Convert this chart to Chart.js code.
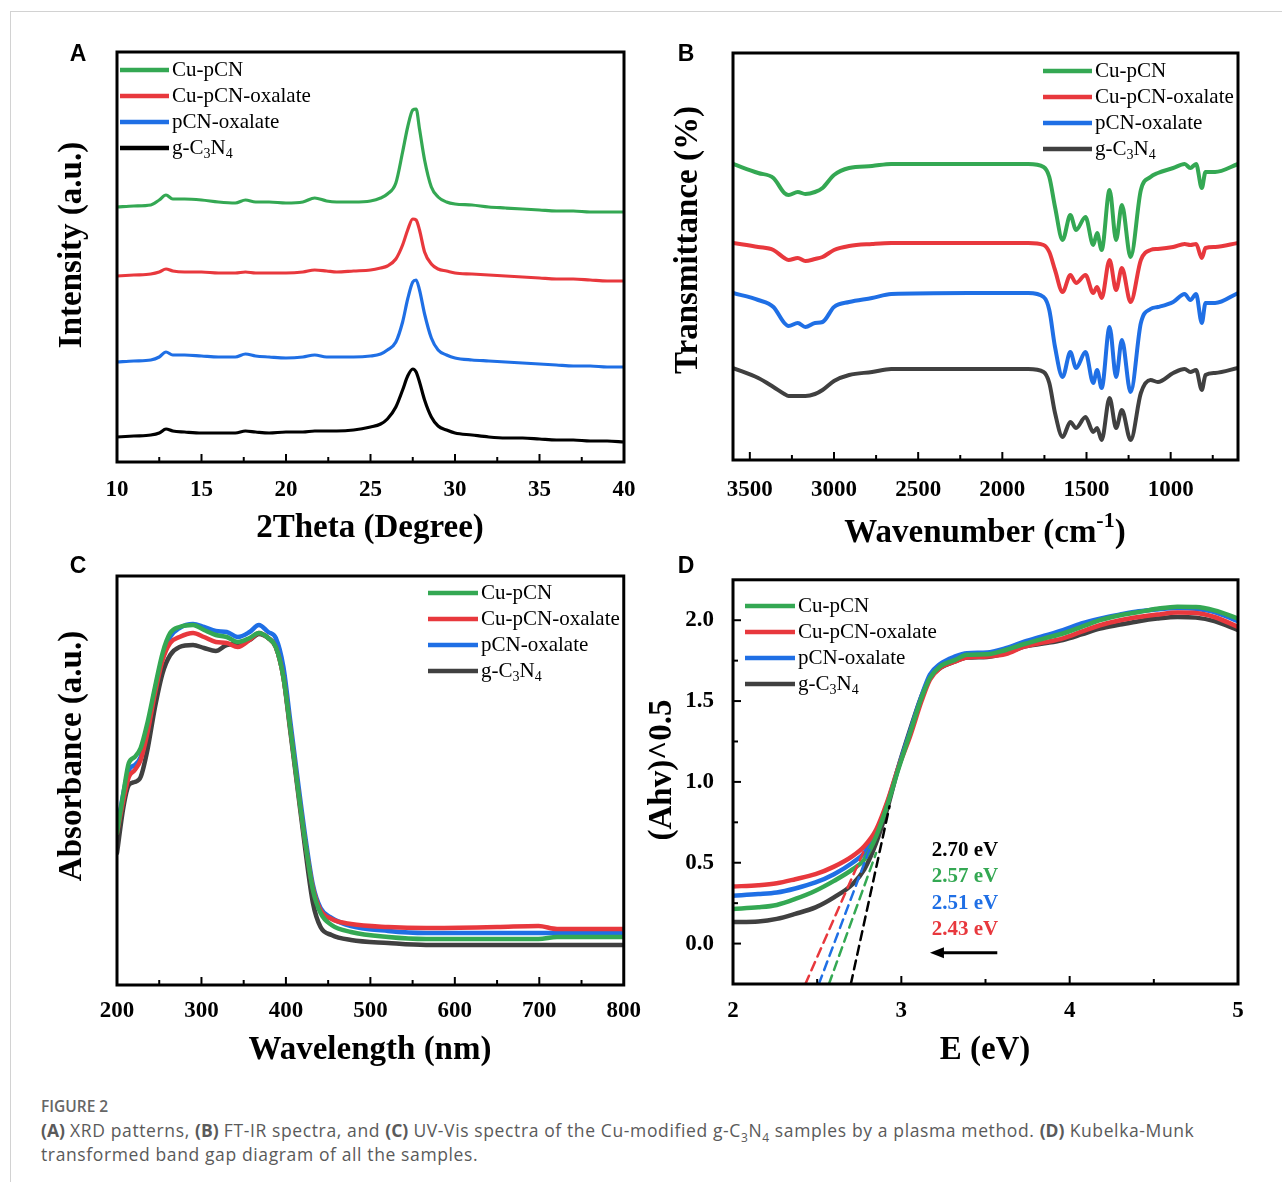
<!DOCTYPE html>
<html>
<head>
<meta charset="utf-8">
<title>Figure 2</title>
<script src="https://cdn.jsdelivr.net/npm/chart.js@4.4.0/dist/chart.umd.min.js"></script>
<style>
  body { margin: 0; background: #fff; }
  #fig { position: relative; width: 1282px; height: 1182px; overflow: hidden; background: #fff; }
  #fig canvas { position: absolute; }
  .card { position: absolute; left: 10px; top: 11px; width: 1300px; height: 1200px;
          border-top: 1px solid #d2d2d2; border-left: 1px solid #d2d2d2; }
  .caption { position: absolute; left: 41px; top: 1094px; font-family: "Open Sans", sans-serif;
             font-size: 17.5px; letter-spacing: 0.62px; line-height: 24px; color: #5a5a5a; }
  .caption .fig-no { font-size: 15.5px; font-weight: 600; letter-spacing: 0; color: #666; }
  .caption b { font-weight: 700; letter-spacing: 0; }
  .caption sub { font-size: 12px; line-height: 0; }
</style>
</head>
<body>
<div id="fig">
  <div class="card"></div>
  <canvas id="chartA"></canvas>
  <canvas id="chartB"></canvas>
  <canvas id="chartC"></canvas>
  <canvas id="chartD"></canvas>
  <div class="caption">
    <div class="fig-no">FIGURE 2</div>
    <div><b>(A)</b> XRD patterns, <b>(B)</b> FT-IR spectra, and <b>(C)</b> UV-Vis spectra of the Cu-modified g-C<sub>3</sub>N<sub>4</sub> samples by a plasma method. <b>(D)</b> Kubelka-Munk<br>transformed band gap diagram of all the samples.</div>
  </div>
</div>
<script>
const SERIF = '"Liberation Serif", "Times New Roman", serif';
const SANS = '"Liberation Sans", Arial, sans-serif';

const sampleNames = ['Cu-pCN', 'Cu-pCN-oxalate', 'pCN-oxalate', 'g-C3N4'];
const GREEN = '#34a853', RED = '#e8383d', BLUE = '#1f6fe5', GREY = '#404040';

// A: XRD, stacked with offsets (a.u.)
const xrdTheta = [10, 11, 12, 12.5, 12.9, 13.3, 14, 15, 16, 17, 17.6, 18.2, 19, 20, 21, 21.7, 22.4, 23, 24, 25, 25.6,
  26, 26.5, 26.9, 27.2, 27.5, 27.7, 27.9, 28.2, 28.6, 29, 29.5, 30, 31, 32, 33, 34, 35, 36, 37, 38, 39, 40];
const xrdCuPCN = [255, 256, 257, 262, 267, 263, 263, 262, 260, 259, 262, 260, 260, 259, 260, 264, 261, 260, 260, 261, 264,
  268, 279, 310, 335, 352, 353, 333, 302, 275, 265, 260, 258, 257, 255, 254, 253, 252, 251, 251, 250, 250, 250];
const xrdCuPCNOx = [186, 187, 188, 190, 193, 191, 190, 190, 189, 189, 190, 189, 189, 189, 190, 192, 191, 190, 191, 192, 194,
  196, 203, 217, 232, 243, 242, 232, 210, 198, 193, 191, 189, 188, 187, 186, 185, 184, 183, 183, 182, 181, 181];
const xrdPCNOx = [100, 101, 102, 105, 110, 107, 107, 106, 105, 105, 108, 106, 105, 104, 105, 107, 105, 105, 105, 106, 108,
  112, 120, 140, 163, 180, 182, 172, 148, 124, 112, 107, 104, 102, 101, 100, 99, 98, 97, 96, 96, 95, 95];
const xrdGCN = [25, 26, 27, 29, 33, 31, 30, 29, 29, 29, 31, 30, 29, 30, 30, 31, 31, 31, 32, 35, 38,
  43, 55, 72, 86, 93, 90, 80, 62, 45, 36, 32, 29, 27, 25, 24, 24, 23, 22, 22, 21, 21, 20];
const xrdTicks = [10, 15, 20, 25, 30, 35, 40];

// B: FT-IR transmittance, stacked (a.u.)
const irWavenumber = [3600, 3450, 3360, 3295, 3270, 3215, 3170, 3113, 3068, 3000, 2910, 2774, 2660, 2200, 1845, 1755, 1721,
  1687, 1642, 1596, 1562, 1506, 1460, 1437, 1410, 1363, 1324, 1290, 1238, 1177, 1120, 1076, 985, 917, 883, 849, 815, 793, 736, 600];
const irCuPCN = [298, 289, 284, 269, 267, 270, 268, 270, 274, 287, 294, 296, 298, 298, 298, 295, 285,
  255, 222, 247, 232, 245, 217, 229, 212, 272, 222, 257, 205, 272, 285, 289, 294, 298, 294, 298, 274, 290, 290, 298];
const irCuPCNOx = [219, 215, 212, 204, 202, 204, 201, 203, 205, 212, 216, 218, 219, 219, 219, 217, 210,
  192, 170, 187, 179, 187, 169, 175, 164, 202, 172, 194, 160, 202, 212, 213, 215, 218, 217, 218, 204, 214, 215, 219];
const irPCNOx = [169, 162, 155, 139, 136, 139, 135, 139, 140, 155, 160, 164, 168, 169, 169, 165, 152,
  115, 85, 110, 94, 110, 79, 92, 74, 135, 85, 122, 70, 139, 153, 155, 160, 168, 162, 168, 139, 159, 159, 169];
const irGCN = [94, 84, 75, 68, 66, 66, 66, 68, 72, 81, 87, 90, 93, 93, 93, 90, 79,
  49, 25, 40, 34, 45, 30, 34, 22, 64, 34, 52, 22, 69, 82, 80, 89, 93, 90, 92, 72, 87, 89, 94];
const irTicks = [3500, 3000, 2500, 2000, 1500, 1000];

// C: UV-Vis absorbance (a.u.)
const uvWavelength = [200, 207.6, 214, 221, 228, 236, 245, 254, 263, 274, 290, 303, 317, 330, 343, 357, 368, 379, 388,
  397, 405, 414, 423, 432, 441, 454, 477, 521, 566, 650, 699, 721, 800];
const uvCuPCN = [152, 192, 222, 228, 237, 262, 298, 332, 352, 358, 360, 355, 350, 348, 343, 347, 352, 347, 338,
  308, 258, 198, 142, 95, 72, 60, 53, 48, 46, 46, 46, 48, 48];
const uvCuPCNOx = [152, 185, 208, 215, 225, 252, 292, 325, 342, 348, 352, 348, 343, 342, 338, 345, 352, 347, 338,
  308, 258, 198, 142, 97, 75, 66, 61, 58, 57, 58, 59, 56, 56];
const uvPCNOx = [155, 192, 215, 220, 228, 255, 295, 328, 348, 357, 361, 358, 354, 353, 348, 353, 360, 353, 347,
  318, 265, 205, 148, 100, 77, 67, 59, 54, 52, 52, 52, 52, 52];
const uvGCN = [132, 178, 200, 203, 208, 235, 278, 312, 330, 338, 340, 337, 334, 340, 341, 345, 351, 347, 338,
  308, 255, 195, 135, 82, 58, 50, 45, 42, 40, 40, 40, 40, 40];
const uvTicks = [200, 300, 400, 500, 600, 700, 800];

// D: Kubelka-Munk (Ahv)^0.5 vs photon energy
const kmEnergy = [2.0, 2.15, 2.26, 2.37, 2.49, 2.60, 2.71, 2.78, 2.85, 2.92, 2.98, 3.05, 3.12, 3.17, 3.23, 3.32,
  3.39, 3.51, 3.62, 3.73, 3.85, 3.96, 4.07, 4.18, 4.30, 4.41, 4.52, 4.64, 4.75, 4.86, 5.0];
const kmCuPCN = [0.214, 0.224, 0.239, 0.276, 0.327, 0.388, 0.459, 0.520, 0.663, 0.867, 1.071, 1.296, 1.520, 1.643, 1.714, 1.755,
  1.786, 1.790, 1.816, 1.853, 1.888, 1.918, 1.959, 2.000, 2.031, 2.051, 2.071, 2.084, 2.082, 2.061, 2.010];
const kmCuPCNOx = [0.353, 0.361, 0.373, 0.398, 0.429, 0.476, 0.541, 0.602, 0.704, 0.888, 1.082, 1.276, 1.500, 1.633, 1.704, 1.745,
  1.769, 1.776, 1.790, 1.837, 1.863, 1.888, 1.929, 1.969, 2.000, 2.020, 2.035, 2.047, 2.045, 2.020, 1.959];
const kmPCNOx = [0.296, 0.306, 0.316, 0.341, 0.378, 0.429, 0.500, 0.561, 0.684, 0.878, 1.082, 1.306, 1.531, 1.663, 1.729, 1.776,
  1.796, 1.800, 1.827, 1.867, 1.904, 1.939, 1.980, 2.010, 2.035, 2.055, 2.067, 2.076, 2.071, 2.051, 1.994];
const kmGCN = [0.133, 0.137, 0.153, 0.184, 0.224, 0.286, 0.367, 0.459, 0.622, 0.847, 1.082, 1.316, 1.531, 1.643, 1.704, 1.745,
  1.769, 1.773, 1.796, 1.837, 1.857, 1.878, 1.912, 1.949, 1.973, 1.994, 2.010, 2.020, 2.016, 1.994, 1.939];
const kmTicksX = [2, 3, 4, 5];
const kmTicksY = [0, 0.5, 1.0, 1.5, 2.0];
const kmYMin = -0.25, kmYMax = 2.25;

// band gaps (g-C3N4, Cu-pCN, pCN-oxalate, Cu-pCN-oxalate) and where each tangent line stops
const bandGaps = [2.70, 2.57, 2.51, 2.43];
const tangentEnds = [[2.93, 0.85], [2.85, 0.56], [2.81, 0.58], [2.78, 0.58]];
const bandGapColors = ['#000000', GREEN, BLUE, RED];

// ---------- text helpers ----------
function formulaParts(text) {
  // digits right after a letter are subscripts (C3N4)
  const parts = [];
  for (let i = 0; i < text.length; i++) {
    const c = text[i];
    const sub = /\d/.test(c) && i > 0 && /[A-Za-z]/.test(text[i - 1]);
    parts.push({ t: c, sub });
  }
  return parts;
}

function drawParts(ctx, parts, x, y, size, weight, align) {
  const big = `${weight} ${size}px ${SERIF}`;
  const small = `${weight} ${Math.round(size * 0.66)}px ${SERIF}`;
  let total = 0;
  parts.forEach(p => { ctx.font = (p.sub || p.sup) ? small : big; p.w = ctx.measureText(p.t).width; total += p.w; });
  let cx = align === 'center' ? x - total / 2 : x;
  ctx.textAlign = 'left';
  ctx.textBaseline = 'middle';
  parts.forEach(p => {
    ctx.font = (p.sub || p.sup) ? small : big;
    const dy = p.sub ? size * 0.3 : p.sup ? -size * 0.36 : 0;
    ctx.fillText(p.t, cx, y + dy);
    cx += p.w;
  });
}

function stepValues(min, max, step) {
  const out = [];
  const k0 = Math.ceil(min / step - 1e-9), k1 = Math.floor(max / step + 1e-9);
  for (let k = k0; k <= k1; k++) out.push(+(k * step).toFixed(6));
  return out;
}

// frame, inward tick marks, legend, titles and notes
const panelDeco = {
  id: 'panelDeco',
  afterDatasetsDraw(chart, args, o) {
    const ctx = chart.ctx, a = chart.chartArea;
    const xs = chart.scales.x, ys = chart.scales.y;
    const ox = o.box.x, oy = o.box.y;
    ctx.save();
    ctx.strokeStyle = '#000';
    ctx.lineCap = 'butt';

    const xMajor = xs.ticks.map(t => t.value);
    ctx.lineWidth = 2;
    stepValues(xs.min, xs.max, o.xMinor).forEach(v => {
      if (Math.abs(v - xs.min) < 1e-6 || Math.abs(v - xs.max) < 1e-6) return;
      const major = xMajor.some(m => Math.abs(m - v) < 1e-6);
      const px = xs.getPixelForValue(v);
      ctx.beginPath();
      ctx.moveTo(px, a.bottom);
      ctx.lineTo(px, a.bottom - (major ? 8 : 5));
      ctx.stroke();
    });
    if (o.yMinor) {
      const yMajor = ys.ticks.map(t => t.value);
      stepValues(ys.min, ys.max, o.yMinor).forEach(v => {
        if (Math.abs(v - ys.min) < 1e-6 || Math.abs(v - ys.max) < 1e-6) return;
        const major = yMajor.some(m => Math.abs(m - v) < 1e-6);
        const py = ys.getPixelForValue(v);
        ctx.beginPath();
        ctx.moveTo(a.left, py);
        ctx.lineTo(a.left + (major ? 8 : 5), py);
        ctx.stroke();
      });
    }

    ctx.lineWidth = 3;
    ctx.strokeRect(a.left, a.top, a.right - a.left, a.bottom - a.top);

    // legend
    const lg = o.legend;
    o.names.forEach((name, i) => {
      const ly = lg.y - oy + i * lg.row;
      const lx = lg.x - ox;
      ctx.strokeStyle = o.colors[i];
      ctx.lineWidth = lg.lw;
      ctx.beginPath();
      ctx.moveTo(lx, ly);
      ctx.lineTo(lx + lg.len, ly);
      ctx.stroke();
      ctx.fillStyle = '#000';
      drawParts(ctx, formulaParts(name), lx + lg.len + 3, ly, lg.size, 'normal', 'left');
    });

    // axis titles
    ctx.fillStyle = '#000';
    drawParts(ctx, o.xTitle, o.xTitlePos[0] - ox, o.xTitlePos[1] - oy, 33, 'bold', 'center');
    ctx.save();
    ctx.translate(o.yTitlePos[0] - ox, o.yTitlePos[1] - oy);
    ctx.rotate(-Math.PI / 2);
    drawParts(ctx, o.yTitle, 0, 0, 33, 'bold', 'center');
    ctx.restore();

    // panel letter
    ctx.font = `bold 23px ${SANS}`;
    ctx.textAlign = 'center';
    ctx.textBaseline = 'middle';
    ctx.fillText(o.letter, o.letterPos[0] - ox, o.letterPos[1] - oy);

    if (o.notes) o.notes(chart, ctx);
    ctx.restore();
  }
};

function plain(text) { return [{ t: text }]; }

function buildPanel(cfg) {
  const cv = document.getElementById(cfg.id);
  const b = cfg.box, ar = cfg.area;
  cv.width = b.w; cv.height = b.h;
  cv.style.left = b.x + 'px';
  cv.style.top = b.y + 'px';

  const datasets = cfg.series.map((vals, i) => ({
    label: sampleNames[i],
    data: vals.map((v, j) => ({ x: cfg.xs[j], y: v })),
    borderColor: cfg.colors[i],
    borderWidth: cfg.lineWidth,
    pointRadius: 0,
    fill: false,
    cubicInterpolationMode: 'monotone',
    order: i
  })).concat(cfg.extra || []);

  const tickFont = { family: SERIF, size: 23, weight: 'bold' };

  return new Chart(cv, {
    type: 'line',
    data: { datasets },
    options: {
      responsive: false,
      animation: false,
      events: [],
      layout: { padding: { left: 0, top: ar.t - b.y, right: b.x + b.w - ar.r, bottom: 0 } },
      plugins: {
        legend: { display: false },
        tooltip: { enabled: false },
        panelDeco: {
          box: b, names: sampleNames, colors: cfg.colors, legend: cfg.legend,
          xMinor: cfg.xMinor, yMinor: cfg.yMinor,
          xTitle: cfg.xTitle, xTitlePos: cfg.xTitlePos,
          yTitle: cfg.yTitle, yTitlePos: cfg.yTitlePos,
          letter: cfg.letter, letterPos: cfg.letterPos, notes: cfg.notes
        }
      },
      elements: { line: { borderJoinStyle: 'round', borderCapStyle: 'round' } },
      scales: {
        x: {
          type: 'linear',
          min: cfg.xMin, max: cfg.xMax, reverse: !!cfg.xReverse,
          afterFit: s => { s.height = b.y + b.h - ar.b; },
          afterBuildTicks: s => { s.ticks = cfg.xTicks.map(v => ({ value: v })); },
          grid: { display: false },
          border: { display: false },
          ticks: { font: tickFont, color: '#000', padding: cfg.xTickPad, maxRotation: 0, autoSkip: false,
                   callback: v => String(v) }
        },
        y: {
          type: 'linear',
          min: cfg.yMin, max: cfg.yMax,
          afterFit: s => { s.width = ar.l - b.x; },
          afterBuildTicks: s => { s.ticks = (cfg.yTicks || []).map(v => ({ value: v })); },
          grid: { display: false },
          border: { display: false },
          ticks: { display: !!cfg.yTicks, font: tickFont, color: '#000', padding: 11,
                   callback: v => v.toFixed(1) }
        }
      }
    },
    plugins: [panelDeco]
  });
}

buildPanel({
  id: 'chartA', letter: 'A', letterPos: [78, 55],
  box: { x: 0, y: 20, w: 645, h: 535 }, area: { l: 117, t: 52, r: 624, b: 462 },
  xs: xrdTheta, series: [xrdCuPCN, xrdCuPCNOx, xrdPCNOx, xrdGCN],
  colors: [GREEN, RED, BLUE, '#000000'], lineWidth: 3.2,
  xMin: 10, xMax: 40, xTicks: xrdTicks, xMinor: 2.5, xTickPad: 6,
  yMin: 0, yMax: 410,
  legend: { x: 120, y: 70, row: 26, len: 49, lw: 4.5, size: 21 },
  xTitle: plain('2Theta (Degree)'), xTitlePos: [370, 528],
  yTitle: plain('Intensity (a.u.)'), yTitlePos: [72, 245]
});

buildPanel({
  id: 'chartB', letter: 'B', letterPos: [686, 55],
  box: { x: 645, y: 20, w: 637, h: 535 }, area: { l: 733, t: 53, r: 1238, b: 460 },
  xs: irWavenumber, series: [irCuPCN, irCuPCNOx, irPCNOx, irGCN],
  colors: [GREEN, RED, BLUE, GREY], lineWidth: 4,
  xMin: 600, xMax: 3600, xReverse: true, xTicks: irTicks, xMinor: 250, xTickPad: 8,
  yMin: 2, yMax: 409,
  legend: { x: 1043, y: 71, row: 26, len: 49, lw: 4.5, size: 21 },
  xTitle: [{ t: 'Wavenumber (cm' }, { t: '-1', sup: true }, { t: ')' }], xTitlePos: [985, 533],
  yTitle: plain('Transmittance (%)'), yTitlePos: [688, 240]
});

buildPanel({
  id: 'chartC', letter: 'C', letterPos: [78, 567],
  box: { x: 0, y: 555, w: 645, h: 530 }, area: { l: 117, t: 576, r: 624, b: 985 },
  xs: uvWavelength, series: [uvCuPCN, uvCuPCNOx, uvPCNOx, uvGCN],
  colors: [GREEN, RED, BLUE, GREY], lineWidth: 4.5,
  xMin: 200, xMax: 800, xTicks: uvTicks, xMinor: 50, xTickPad: 4,
  yMin: 0, yMax: 409,
  legend: { x: 428, y: 593, row: 26, len: 50, lw: 4.5, size: 21 },
  xTitle: plain('Wavelength (nm)'), xTitlePos: [370, 1050],
  yTitle: plain('Absorbance (a.u.)'), yTitlePos: [72, 756]
});

// tangent lines from each band gap up the absorption edge
const tangentSets = bandGaps.map((eg, i) => ({
  label: 'Eg ' + eg,
  data: [{ x: eg, y: kmYMin }, { x: tangentEnds[i][0], y: tangentEnds[i][1] }],
  borderColor: bandGapColors[i],
  borderWidth: 2.5,
  borderDash: [9, 6],
  pointRadius: 0,
  fill: false,
  order: -1
}));

buildPanel({
  id: 'chartD', letter: 'D', letterPos: [686, 567],
  box: { x: 645, y: 555, w: 637, h: 530 }, area: { l: 733, t: 575, r: 1238, b: 984 },
  xs: kmEnergy, series: [kmCuPCN, kmCuPCNOx, kmPCNOx, kmGCN],
  colors: [GREEN, RED, BLUE, GREY], lineWidth: 4.5, extra: tangentSets,
  xMin: 2, xMax: 5, xTicks: kmTicksX, xMinor: 0.5, xTickPad: 5,
  yMin: kmYMin, yMax: kmYMax, yTicks: kmTicksY, yMinor: 0.25,
  legend: { x: 745, y: 606, row: 26, len: 50, lw: 4.5, size: 21 },
  xTitle: plain('E (eV)'), xTitlePos: [985, 1050],
  yTitle: plain('(Ahv)^0.5'), yTitlePos: [662, 770],
  notes: (chart, ctx) => {
    const xs = chart.scales.x, ys = chart.scales.y;
    const labelYs = [0.575, 0.415, 0.25, 0.084];
    ctx.font = `bold 21px ${SERIF}`;
    ctx.textAlign = 'center';
    ctx.textBaseline = 'middle';
    bandGaps.forEach((eg, i) => {
      ctx.fillStyle = bandGapColors[i];
      ctx.fillText(eg.toFixed(2) + ' eV', xs.getPixelForValue(3.378), ys.getPixelForValue(labelYs[i]));
    });
    // arrow pointing to lower energy
    const ay = ys.getPixelForValue(-0.057);
    const x0 = xs.getPixelForValue(3.57), x1 = xs.getPixelForValue(3.17);
    ctx.strokeStyle = '#000';
    ctx.fillStyle = '#000';
    ctx.lineWidth = 3;
    ctx.beginPath();
    ctx.moveTo(x0, ay);
    ctx.lineTo(x1 + 10, ay);
    ctx.stroke();
    ctx.beginPath();
    ctx.moveTo(x1, ay);
    ctx.lineTo(x1 + 14, ay - 5.5);
    ctx.lineTo(x1 + 14, ay + 5.5);
    ctx.closePath();
    ctx.fill();
  }
});
</script>
</body>
</html>
